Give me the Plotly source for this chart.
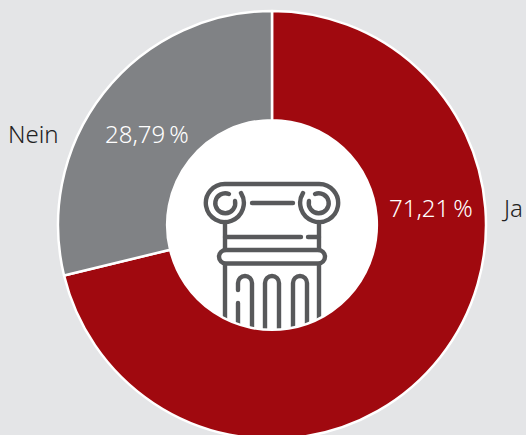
import base64
import plotly.graph_objects as go

categories = ["Ja", "Nein"]
values = [71.21, 28.79]
colors = ["#A0090F", "#808285"]

W, H = 526, 448
CX, CY, R = 272, 225, 214
BG = "#E4E5E7"
ICON = "#58595B"
FONT = "'Noto Sans', Lato, sans-serif"


def px(x):
    return x / W


def py(y):
    return 1 - y / H


icon_svg = f"""<svg xmlns='http://www.w3.org/2000/svg' width='{W}' height='{H}' viewBox='0 0 {W} {H}'>
<defs><clipPath id='c'><circle cx='{CX}' cy='{CY}' r='108'/></clipPath></defs>
<circle cx='{CX}' cy='{CY}' r='108' fill='white'/>
<g clip-path='url(#c)' fill='none' stroke='{ICON}' stroke-width='4.4' stroke-linecap='round' stroke-linejoin='round'>
<path d='M241 193 A19 19 0 1 1 225 184 H319 A19 19 0 1 1 303 193'/>
<path d='M229 194 A10 10 0 1 0 235 201'/>
<path d='M315 194 A10 10 0 1 1 309 201'/>
<path d='M252 203 H293'/>
<path d='M225 222 V250 M319 222 V250'/>
<path d='M225 237 H301 M308 237 H319'/>
<rect x='219' y='250' width='106' height='13.5' rx='6.7'/>
<path d='M225 264 V340 M319 264 V340'/>
<path d='M238 290 V283 A7 7 0 0 1 252 283 V340 M238 303 V330'/>
<path d='M265 340 V283 A7 7 0 0 1 279 283 V340'/>
<path d='M293 340 V283 A7 7 0 0 1 307 283 V340'/>
</g></svg>"""
icon_uri = "data:image/svg+xml;base64," + base64.b64encode(icon_svg.encode()).decode()

fig = go.Figure(
    go.Pie(
        labels=categories,
        values=values,
        hole=0.49,
        sort=False,
        direction="clockwise",
        rotation=0,
        textinfo="none",
        showlegend=False,
        marker=dict(colors=colors, line=dict(color="white", width=2.5)),
        domain=dict(
            x=[px(CX - R), px(CX + R)],
            y=[py(CY + R), py(CY - R)],
        ),
    )
)


def pct(v):
    return f"{v:.2f}".replace(".", ",") + "\u2009%"


def note(text, x, y, color):
    fig.add_annotation(
        text=text, x=px(x), y=py(y), xref="paper", yref="paper",
        showarrow=False, xanchor="center", yanchor="middle",
        font=dict(family=FONT, size=24, color=color, weight=300),
    )


note(pct(values[0]), 431, 207, "white")
note(pct(values[1]), 147, 133, "white")
note(categories[0], 512, 207, "#222222")
note(categories[1], 33, 133, "#222222")

fig.update_layout(
    width=W,
    height=H,
    margin=dict(l=0, r=0, t=0, b=0),
    paper_bgcolor=BG,
    images=[dict(
        source=icon_uri, xref="paper", yref="paper", x=0, y=1,
        sizex=1, sizey=1, xanchor="left", yanchor="top",
        sizing="stretch", layer="below",
    )],
)

fig.write_html(
    "out.html",
    config={"displayModeBar": False},
    post_script="document.body.style.margin='0';document.documentElement.style.overflow='hidden';document.body.style.overflow='hidden';",
)
